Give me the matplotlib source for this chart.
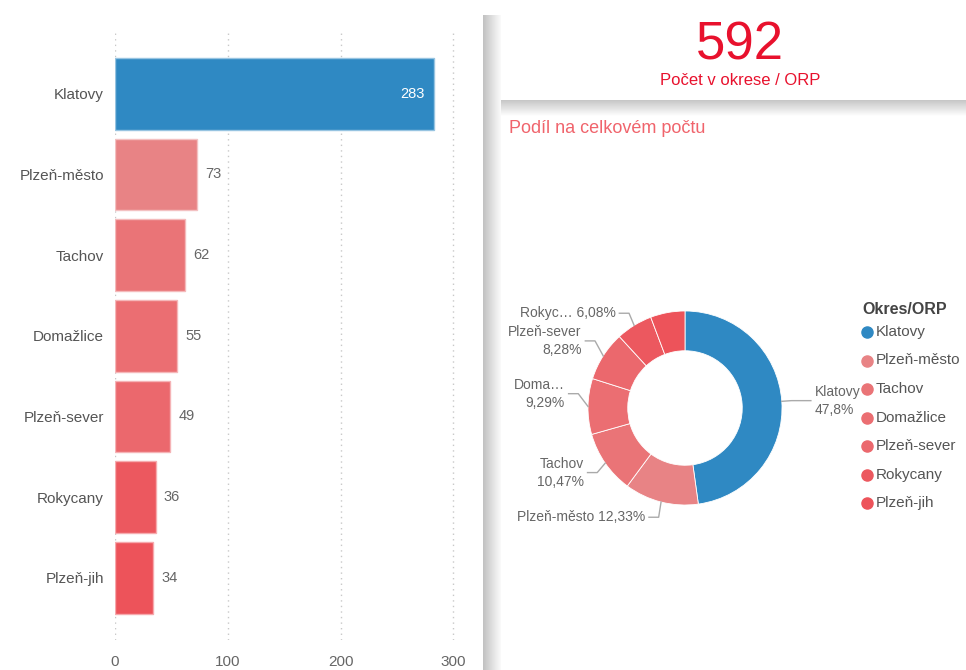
import numpy as np
import matplotlib
matplotlib.use('Agg')
import matplotlib.pyplot as plt

plt.rcParams['font.family'] = ['Liberation Sans', 'DejaVu Sans']

#%% data
okresy = ['Klatovy', 'Plzeň-město', 'Tachov', 'Domažlice', 'Plzeň-sever', 'Rokycany', 'Plzeň-jih']
pocty = [283, 73, 62, 55, 49, 36, 34]
barvy = ['#2f89c3', '#e88385', '#ea7477', '#eb6e72', '#eb686d', '#ec585f', '#ed535a']
kratke = ['Klatovy', 'Plzeň-město', 'Tachov', 'Doma…', 'Plzeň-sever', 'Rokyc…', '']
oddelovac = ['\n', ' ', '\n', '\n', '\n', ' ', '']
xticky = [0, 100, 200, 300]
celkem = 592

# posun popisku kolace (styl)
posun = [0.0, -0.06, -0.04, 0.13, 0.10, 0.04, 0.0]

W, H = 966, 670
fig = plt.figure(figsize=(W/100, H/100), dpi=100)
fig.patch.set_facecolor('white')

# overlay in pixel coords (divider, card, headings, legend)
ov = fig.add_axes([0, 0, 1, 1])
ov.axis('off')
ov.patch.set_visible(False)
g = np.linspace(0.76, 0.98, 20)[None, :]
ov.imshow(g, extent=[483, 501, 670, 15], cmap='gray', vmin=0, vmax=1, aspect='auto')
g2 = np.linspace(0.78, 0.99, 16)[:, None]
ov.imshow(g2, extent=[501, 966, 116, 100], cmap='gray', vmin=0, vmax=1, aspect='auto')
ov.set_xlim(0, W)
ov.set_ylim(H, 0)

ov.text(740, 60, str(celkem), fontsize=38, color='#e8112d', ha='center', va='baseline')
ov.text(740, 85, 'Počet v okrese / ORP', fontsize=12, color='#e8112d', ha='center', va='baseline')
ov.text(509, 133, 'Podíl na celkovém počtu', fontsize=13, color='#f0646c', ha='left', va='baseline')

# legenda
ov.text(862, 310, 'Okres/ORP', fontsize=11.5, fontweight='bold', color='#444444', ha='left', va='center')
for i, (n, c) in enumerate(zip(okresy, barvy)):
    y = 332 + i*28.5
    ov.plot(867, y, 'o', ms=8, color=c)
    ov.text(876, y, n, fontsize=11, color='#555555', ha='left', va='center')

#%% bar chart
ax = fig.add_axes([115/W, 30/H, (459-115)/W, 610/H])
y = np.arange(len(okresy))
hrany = [tuple(0.5*np.array(matplotlib.colors.to_rgb(c)) + 0.5) for c in barvy]
ax.barh(y, pocty, height=0.89, color=barvy, edgecolor=hrany, linewidth=1, zorder=2)
for i, v in enumerate(pocty):
    if i == 0:
        ax.annotate(str(v), (v, i), xytext=(-7, 0), textcoords='offset points',
                    ha='right', va='center', color='white', fontsize=10.5)
    else:
        ax.annotate(str(v), (v, i), xytext=(6, 0), textcoords='offset points',
                    ha='left', va='center', color='#666666', fontsize=10.5)
ax.set_xlim(0, 305)
ax.set_ylim(6.77, -0.79)
ax.set_yticks(y)
ax.set_yticklabels(okresy, fontsize=11, color='#555555')
ax.set_xticks(xticky)
ax.set_xticklabels([str(t) for t in xticky], fontsize=11, color='#666666')
ax.tick_params(axis='y', length=0, pad=8)
ax.tick_params(axis='x', length=0, pad=11)
ax.grid(axis='x', ls=(0, (1, 3)), color='#c8c8c8', lw=1, zorder=0)
for s in ax.spines.values():
    s.set_visible(False)

#%% donut
ad = fig.add_axes([545/W, (H-548)/H, 280/W, 280/H])
wedges, _ = ad.pie(pocty, colors=barvy, startangle=90, counterclock=False, radius=1,
                   wedgeprops=dict(width=0.41, edgecolor='white', linewidth=0.6))
ad.set_xlim(-1.443, 1.443)
ad.set_ylim(-1.443, 1.443)
ad.set_aspect('equal')
ad.axis('off')

for w, v, k, sep, dy in zip(wedges, pocty, kratke, oddelovac, posun):
    if not k:
        continue
    a = np.deg2rad((w.theta1 + w.theta2)/2)
    cx, sy = np.cos(a), np.sin(a)
    p0 = (cx*1.0, sy*1.0)
    p1 = (cx*1.1, sy*1.1 + dy)
    s = 1 if cx > 0 else -1
    p2 = (p1[0] + s*(0.2 if s > 0 else 0.1), p1[1])
    ad.plot([p0[0], p1[0], p2[0]], [p0[1], p1[1], p2[1]], color='#aaaaaa', lw=1, clip_on=False)
    pct = ('%.2f' % (v/celkem*100)).rstrip('0').rstrip('.').replace('.', ',')
    ad.text(p2[0] + s*0.04, p2[1], k + sep + pct + '%', fontsize=10, color='#666666',
            ha='left' if s > 0 else 'right', va='center', linespacing=1.35,
            multialignment='left' if s > 0 else 'right', clip_on=False)

fig.savefig('out.png', dpi=100, facecolor='white')
